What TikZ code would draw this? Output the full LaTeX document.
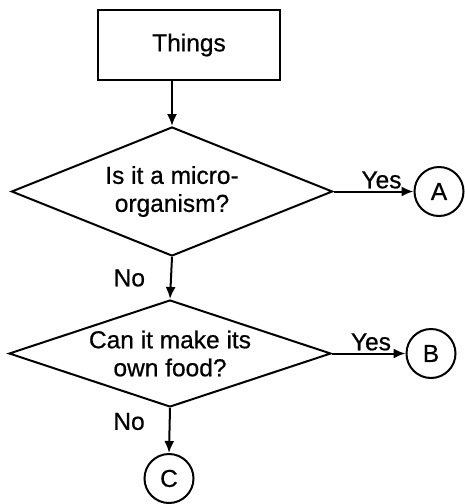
\documentclass[tikz,border=0pt]{standalone}
\usepackage{fontspec}
\setmainfont[FakeBold=0.6]{Liberation Sans}
\usetikzlibrary{shapes.geometric,arrows.meta}
\begin{document}
\begin{tikzpicture}[x=1pt,y=-1pt,
		every node/.style={font=\fontsize{24.5}{28}\selectfont},
		thingbox/.style={draw,line width=2pt,minimum width=182pt,minimum height=70pt},
		question/.style={draw,diamond,line width=2pt,inner sep=0pt,align=center},
		group/.style={draw,circle,line width=2pt,minimum size=49pt,inner sep=0pt},
		flow/.style={line width=2pt,-{Latex[length=12pt,width=10pt]}},
		reply/.style={inner sep=2pt}]
				\useasboundingbox (0,0) rectangle (464,504);
				\node[thingbox] (things) at (189,45) {Things};
				\node[question,aspect=2.5,minimum width=321pt,minimum height=129pt] (micro) at (172,191.5) {Is it a micro-\\organism?};
				\node[group] (a) at (439,191.5) {A};
				\node[question,aspect=3,minimum width=322pt,minimum height=107pt] (food) at (170,353.5) {Can it make its\\own food?};
				\node[group] (b) at (431,353.5) {B};
				\node[group] (c) at (169,478.5) {C};
				\draw[flow] (micro.north |- things.south) -- (micro.north);
				\draw[flow] (micro.east) -- node[reply,above,pos=0.6] {Yes} (a.west);
				\draw[flow] (micro.south) -- node[reply,left=23pt] {No} (food.north);
				\draw[flow] (food.east) -- node[reply,above,pos=0.53] {Yes} (b.west);
				\draw[flow] (food.south) -- node[reply,left=22pt,pos=0.3] {No} (c.north);
			\end{tikzpicture}
\end{document}
